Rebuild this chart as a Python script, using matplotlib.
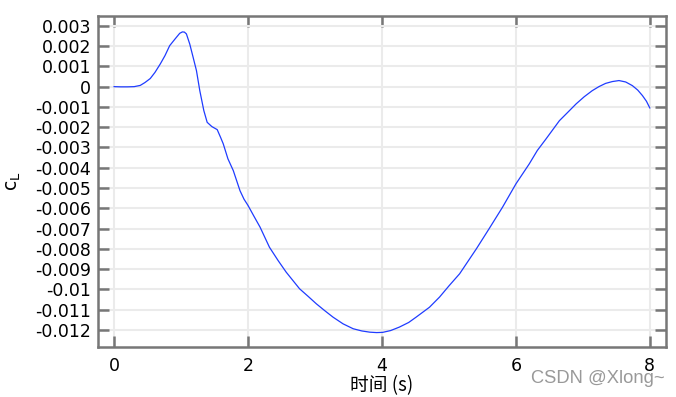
import matplotlib
matplotlib.use("Agg")
import matplotlib.pyplot as plt

# Data
t = [0.0, 0.1, 0.2, 0.3, 0.39, 0.46, 0.54, 0.61, 0.69, 0.76, 0.83, 0.91, 0.98, 1.02,
     1.05, 1.08, 1.13, 1.18, 1.23, 1.28, 1.31, 1.34, 1.39, 1.46, 1.54, 1.59, 1.63,
     1.70, 1.78, 1.88, 1.94, 2.0, 2.09, 2.18, 2.32, 2.45, 2.57, 2.77, 2.9, 3.02, 3.15,
     3.27, 3.42, 3.57, 3.7, 3.82, 3.92, 4.01, 4.13, 4.26, 4.4, 4.51, 4.71, 4.86, 5.0,
     5.16, 5.41, 5.60, 5.80, 6.0, 6.2, 6.32, 6.45, 6.65, 6.78, 6.9, 7.02, 7.14, 7.24,
     7.34, 7.44, 7.54, 7.64, 7.74, 7.82, 7.89, 7.95, 8.0]
cl = [0.0, -0.00001, -0.00001, 0.0, 0.00006, 0.0002, 0.0004, 0.0007, 0.00112, 0.00153,
      0.00202, 0.00235, 0.00263, 0.0027, 0.00269, 0.0026, 0.0021, 0.00145, 0.00079,
      -0.0002, -0.00069, -0.00118, -0.00176, -0.00197, -0.00212, -0.0025, -0.00282,
      -0.00356, -0.00414, -0.00513, -0.00555, -0.00586, -0.0064, -0.00693, -0.00792,
      -0.00858, -0.00915, -0.00997, -0.01035, -0.01071, -0.01106, -0.01137, -0.0117,
      -0.01194, -0.01205, -0.01211, -0.01213, -0.01212, -0.01203, -0.01186, -0.01163,
      -0.01137, -0.01088, -0.01038, -0.00983, -0.00923, -0.0080, -0.00701, -0.00595,
      -0.0048, -0.00381, -0.00315, -0.00258, -0.00168, -0.00125, -0.00085, -0.0005,
      -0.0002, 0.0, 0.00016, 0.00025, 0.0003, 0.00023, 0.00005, -0.00017, -0.00044,
      -0.00072, -0.00105]

xticks = [0, 2, 4, 6, 8]
yticks = [0.003, 0.002, 0.001, 0, -0.001, -0.002, -0.003, -0.004, -0.005, -0.006,
          -0.007, -0.008, -0.009, -0.01, -0.011, -0.012]
ytick_labels = ["0.003", "0.002", "0.001", "0", "-0.001", "-0.002", "-0.003", "-0.004",
                "-0.005", "-0.006", "-0.007", "-0.008", "-0.009", "-0.01", "-0.011", "-0.012"]

plt.rcParams['font.family'] = ['DejaVu Sans', 'Noto Sans CJK SC']

fig = plt.figure(figsize=(6.76, 3.97), dpi=100)
ax = fig.add_axes([0.145, 0.126, 0.84, 0.834])

ax.plot(t, cl, color='#1f3cff', linewidth=0.9)

ax.set_xlim(-0.24, 8.24)
ax.set_ylim(-0.01284, 0.00349)
ax.set_xticks(xticks)
ax.set_xticklabels([str(v) for v in xticks])
ax.set_yticks(yticks)
ax.set_yticklabels(ytick_labels)

ax.grid(True, color='#ebebeb', linewidth=1.5)
ax.set_axisbelow(True)
for s in ax.spines.values():
    s.set_color('#777777')
    s.set_linewidth(1.8)
ax.tick_params(direction='in', length=8, width=1.8, color='#777777',
               labelsize=12.5, top=True, right=True, pad=5)
ax.tick_params(axis='x', pad=7)

ax.set_xlabel('时间 (s)', fontsize=13.5, family=['Noto Sans CJK SC', 'DejaVu Sans'], labelpad=0)
ax.set_ylabel(r'c$_\mathregular{L}$', fontsize=13.5, labelpad=9)

fig.text(0.785, 0.036, 'CSDN @Xlong~', color='#999999', fontsize=13.2,
         family=['Liberation Sans', 'DejaVu Sans'])

fig.savefig('out.png', dpi=100)
